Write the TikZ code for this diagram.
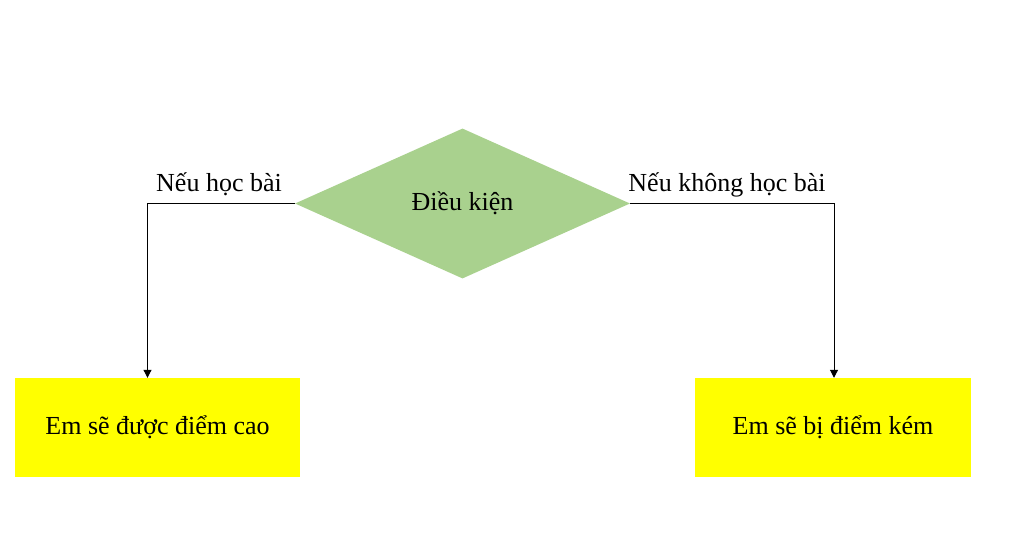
\documentclass[tikz,border=0pt]{standalone}
\usepackage{fontspec}
\setmainfont{Liberation Serif}
\usepackage{tikz}
\usetikzlibrary{arrows.meta}
\usetikzlibrary{positioning,shapes.geometric}
\usepackage{xcolor}
\definecolor{condgreen}{RGB}{169,209,142}
\definecolor{resyellow}{RGB}{255,255,0}
\tikzset{
    cond/.style={
        diamond,
        fill=condgreen,
        inner sep=0pt,
        aspect=2.23,
        minimum width=335pt,
        minimum height=150pt,
        font=\fontsize{26}{30}\selectfont
    },
    result/.style={
        rectangle,
        fill=resyellow,
        minimum height=99pt,
        font=\fontsize{26}{30}\selectfont
    },
    branch/.style={
        anchor=base,
        font=\fontsize{26}{30}\selectfont
    },
    flow/.style={
        draw,
        line width=1pt,
        -{Triangle[length=8pt, width=8pt]}
    }
}

\begin{document}
\begin{tikzpicture}[x=1pt, y=-1pt]
  \useasboundingbox (0,0) rectangle (1024,537);

  % Condition
  \node[cond] (dk) at (462.5,203.5) {\raisebox{-2pt}{Điều kiện}};

  % Branch labels
  \node[branch] (hoc) at (219,192) {Nếu học bài};
  \node[branch] (khonghoc) at (727,192) {Nếu không học bài};

  % Results
  \node[result, minimum width=285pt] (cao) at (157.5,427.5) {Em sẽ được điểm cao};
  \node[result, minimum width=276pt] (kem) at (833,427.5) {Em sẽ bị điểm kém};

  \draw[flow] (dk.west) -| ([xshift=-10pt]cao.north);
  \draw[flow] (dk.east) -| ([xshift=1pt]kem.north);
\end{tikzpicture}
\end{document}
